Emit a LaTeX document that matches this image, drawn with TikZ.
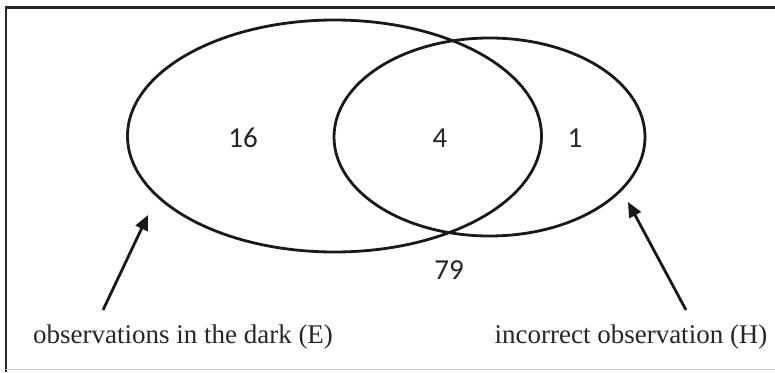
\documentclass[tikz,border=0pt]{standalone}
\usepackage{fontspec}
\setmainfont{Liberation Serif}
\newfontfamily\numfont{Carlito}
\usetikzlibrary{shapes.geometric,arrows.meta}
\begin{document}
\begin{tikzpicture}[x=1pt,y=-1pt,
  setring/.style={draw=black!90, line width=2.8pt, ellipse, inner sep=0pt},
  num/.style={font=\numfont\fontsize{29}{33}\selectfont, text=black!85, inner sep=0pt},
  lbl/.style={font=\fontsize{27}{32}\selectfont, text=black!85, inner sep=0pt, anchor=base},
  pointer/.style={draw=black!90, line width=2.8pt, -{Triangle[length=15pt,width=13pt]}}]
\useasboundingbox (0,0) rectangle (775,372);
% frame
\draw[black!85, line width=2.8pt] (6,372) -- (6,7.5) -- (775,7.5);
\draw[black!20, line width=1pt] (6,369.5) -- (775,369.5);
% sets
\node[setring, minimum width=414pt, minimum height=232pt] (E) at (334.5,136) {};
\node[setring, minimum width=311pt, minimum height=198pt] (H) at (489.5,137) {};
% counts
\node[num] (n16) at (243,138) {16};
\node[num] (n4) at (440,138) {4};
\node[num] (n1) at (575,138) {1};
\node[num] (n79) at (449,270) {79};
% labels
\node[lbl] (lE) at (183,343) {observations in the dark (E)};
\node[lbl] (lH) at (631,343) {incorrect observation (H)};
% arrows
\coordinate (aE) at (103,310);
\coordinate (tE) at (148,215);
\coordinate (aH) at (686,310);
\coordinate (tH) at (628,202);
\draw[pointer] (aE) -- (tE);
\draw[pointer] (aH) -- (tH);
\end{tikzpicture}
\end{document}
